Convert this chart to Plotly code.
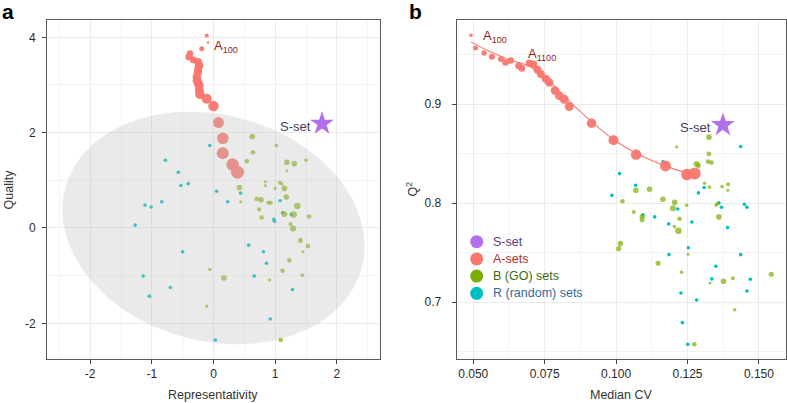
import numpy as np
import plotly.graph_objects as go

# ---------------- Panel a : Representativity vs Quality ----------------
a_A_rep = [-0.11, -0.09, -0.19, -0.38, -0.40, -0.33, -0.25, -0.23, -0.25, -0.25, -0.27, -0.27,
           -0.25, -0.23, -0.23, -0.22, -0.11, 0.00, 0.08, 0.15, 0.15, 0.31, 0.39]
a_A_qual = [4.04, 3.89, 3.76, 3.66, 3.59, 3.53, 3.48, 3.41, 3.34, 3.27, 3.18, 3.10,
            3.04, 2.99, 2.89, 2.80, 2.71, 2.56, 2.21, 1.88, 1.57, 1.33, 1.17]
a_A_size = [4, 2.5, 5, 6.5, 7, 7, 8, 8, 8, 8.5, 8.5, 8.5, 9, 9, 9, 9.5, 10, 10.5, 11, 11.5, 12, 12.5, 13]

a_B_rep = [0.63, 1.02, 0.64, 0.54, 1.19, 1.31, 1.50, 1.19, 0.42, 0.84, 0.84, 1.08, 1.11, 1.00,
           1.15, 1.18, 0.70, 0.77, 0.89, 0.93, 0.44, 0.74, 1.36, 1.15, 1.30, 1.55, 0.78, 1.25,
           1.29, 1.41, 1.53, 1.45, 1.23, 1.12, 1.44, 0.91, -0.06, 0.17, -0.11, 1.09]
a_B_qual = [1.92, 1.73, 1.59, 1.40, 1.38, 1.35, 1.42, 1.20, 0.85, 0.97, 0.89, 0.95, 0.92, 0.83,
            0.83, 0.65, 0.61, 0.59, 0.53, 0.53, 0.55, 0.39, 0.46, 0.29, 0.28, 0.24, 0.22, 0.08,
            -0.01, -0.26, -0.38, -0.50, -0.68, -0.90, -0.99, -1.09, -0.87, -1.05, -1.64, -2.35]
a_B_size = [5, 3, 4, 4, 5, 5, 3, 2.5, 5, 2.5, 2.5, 3.5, 2.5, 2.5,
            5, 5, 4, 5, 3.5, 3.5, 2.5, 3.5, 6, 5, 6, 4, 4, 3.5,
            5.5, 4.5, 4, 2.5, 4, 4, 3, 2.5, 3, 5, 2.5, 4]

a_R_rep = [-0.06, -0.78, -0.57, -0.53, -0.41, 0.05, -0.84, -1.11, -1.01, -1.27, 0.44, 0.23, 1.08, 1.12,
           1.26, 0.98, 0.99, 0.57, -0.50, 0.81, 0.86, 0.66, -1.14, -0.70, -1.04, 1.28, 0.92, 0.03]
a_R_qual = [1.73, 1.42, 1.17, 0.89, 0.93, 0.77, 0.55, 0.48, 0.44, 0.06, 0.73, 0.55, 0.57, 0.32,
            0.28, 0.18, 0.14, -0.36, -0.50, -0.50, -0.74, -1.01, -1.01, -1.25, -1.43, -1.29, -1.91, -2.35]

a_S_rep = [1.76]
a_S_qual = [2.19]

# 95% ellipse parameters (centre, spreads, correlation)
ell_center = (0.0, 0.0)
ell_sx, ell_sy, ell_rho = 2.45, 2.44, -0.156

a_xticks = [-2, -1, 0, 1, 2]
a_yticks = [-2, 0, 2, 4]

# ---------------- Panel b : Median CV vs Q2 ----------------
b_A_cv = [0.0492, 0.0508, 0.0538, 0.0565, 0.0597, 0.0613, 0.0631, 0.0659, 0.0670, 0.0696, 0.0711,
          0.0725, 0.0737, 0.0754, 0.0766, 0.0786, 0.0801, 0.0818, 0.0836, 0.0914, 0.0991, 0.1070,
          0.1173, 0.1248, 0.1275]
b_A_q2 = [0.9697, 0.9568, 0.9518, 0.9480, 0.9457, 0.9420, 0.9440, 0.9387, 0.9364, 0.9414, 0.9404,
          0.9347, 0.9303, 0.9256, 0.9218, 0.9137, 0.9084, 0.9050, 0.8976, 0.8808, 0.8636, 0.8491,
          0.8377, 0.8289, 0.8299]
b_A_size = [3.5, 5, 5.5, 6, 6, 6.5, 6.5, 7, 7, 7.5, 7.5, 8, 8, 8, 8.5, 8.5, 8.5, 9, 9, 9.5,
            10, 10.5, 11, 11.5, 12]

b_fit_cv = [0.0492, 0.0558, 0.0628, 0.0698, 0.0768, 0.0838, 0.0914, 0.0990, 0.1070, 0.1173, 0.1248, 0.1275]
b_fit_q2 = [0.9629, 0.9531, 0.9447, 0.9380, 0.9228, 0.9026, 0.8824, 0.8646, 0.8505, 0.8377, 0.8306, 0.8292]

b_B_cv = [0.1325, 0.1212, 0.1325, 0.1322, 0.1334, 0.1281, 0.1288, 0.1310, 0.1327, 0.1392, 0.1371,
          0.1391, 0.1069, 0.1117, 0.1022, 0.1164, 0.1205, 0.1199, 0.1247, 0.1062, 0.1091, 0.1091,
          0.1222, 0.1204, 0.1354, 0.1350, 0.1360, 0.1218, 0.1015, 0.1009, 0.1252, 0.1147, 0.1229,
          0.1376, 0.1409, 0.1329, 0.1543, 0.1415, 0.1274]
b_B_q2 = [0.8667, 0.8569, 0.8498, 0.8420, 0.8410, 0.8397, 0.8380, 0.8202, 0.8162, 0.8192, 0.8168,
          0.8131, 0.8131, 0.8141, 0.8020, 0.8040, 0.8010, 0.7949, 0.7980, 0.7912, 0.7869, 0.7833,
          0.7843, 0.7764, 0.7993, 0.7980, 0.7862, 0.7721, 0.7592, 0.7541, 0.7485, 0.7394, 0.7303,
          0.7212, 0.7242, 0.7195, 0.7283, 0.6925, 0.6576]
b_B_size = [5, 2.5, 4, 4, 4, 5, 4.5, 3, 3, 3.5, 3,
            2.5, 5, 5, 4, 5, 5, 5.5, 3, 3.5, 4.5, 4.5,
            4, 3, 3, 3, 5, 6, 5, 4.5, 2.5, 4.5, 3,
            5, 3.5, 2.5, 4.5, 3, 4]

b_R_cv = [0.1436, 0.1012, 0.1164, 0.1068, 0.0985, 0.1288, 0.1308, 0.1360, 0.1369, 0.1449, 0.1458,
          0.1094, 0.1216, 0.1135, 0.1184, 0.1265, 0.1390, 0.1253, 0.1185, 0.1436, 0.1349, 0.1335,
          0.1470, 0.1458, 0.1227, 0.1282, 0.1232, 0.1251]
b_R_q2 = [0.8572, 0.8299, 0.8417, 0.8182, 0.8081, 0.8104, 0.8158, 0.8003, 0.7960, 0.7990, 0.7960,
          0.7882, 0.7942, 0.7862, 0.7791, 0.7811, 0.7754, 0.7551, 0.7481, 0.7481, 0.7364, 0.7236,
          0.7233, 0.7114, 0.7094, 0.7023, 0.6794, 0.6576]

b_S_cv = [0.1374]
b_S_q2 = [0.879]

b_xticks = [0.050, 0.075, 0.100, 0.125, 0.150]
b_yticks = [0.7, 0.8, 0.9]

legend_labels = ["S-set", "A-sets", "B (GO) sets", "R (random) sets"]

# ---------------- styles ----------------
C_A, C_B, C_R, C_S = "#F8766D", "#7CAE00", "#00BFC4", "#B36EEA"
LEG_TXT = ["#5A3C78", "#A8322D", "#3A6B12", "#2F6AA0"]
FONT = "Liberation Sans, Arial, sans-serif"
W, H = 787, 403
B_SCALE = 0.6  # extra px added to B markers
R_SIZE = 3.6

fig = go.Figure()

# panel a points
fig.add_trace(go.Scatter(x=a_R_rep, y=a_R_qual, mode="markers", xaxis="x", yaxis="y",
                         marker=dict(color=C_R, size=R_SIZE, line=dict(width=0))))
fig.add_trace(go.Scatter(x=a_B_rep, y=a_B_qual, mode="markers", xaxis="x", yaxis="y",
                         marker=dict(color=C_B, size=[s + B_SCALE for s in a_B_size], line=dict(width=0))))
fig.add_trace(go.Scatter(x=a_A_rep, y=a_A_qual, mode="markers", xaxis="x", yaxis="y",
                         marker=dict(color=C_A, size=a_A_size, opacity=0.95, line=dict(width=0))))
# ellipse over points
t = np.linspace(0, 2 * np.pi, 240)
ex = ell_center[0] + ell_sx * np.cos(t)
ey = ell_center[1] + ell_sy * (ell_rho * np.cos(t) + np.sqrt(1 - ell_rho ** 2) * np.sin(t))
fig.add_trace(go.Scatter(x=ex, y=ey, mode="lines", fill="toself", xaxis="x", yaxis="y",
                         line=dict(width=0, color="rgba(0,0,0,0)"),
                         fillcolor="rgba(190,190,190,0.33)", hoverinfo="skip"))
fig.add_trace(go.Scatter(x=a_S_rep, y=a_S_qual, mode="markers", xaxis="x", yaxis="y",
                         marker=dict(color=C_S, size=18, symbol="star", line=dict(width=0))))

# panel b
fig.add_trace(go.Scatter(x=b_fit_cv, y=b_fit_q2, mode="lines", xaxis="x2", yaxis="y2",
                         line=dict(color=C_A, width=1.1, shape="spline")))
fig.add_trace(go.Scatter(x=b_R_cv, y=b_R_q2, mode="markers", xaxis="x2", yaxis="y2",
                         marker=dict(color=C_R, size=R_SIZE, line=dict(width=0))))
fig.add_trace(go.Scatter(x=b_B_cv, y=b_B_q2, mode="markers", xaxis="x2", yaxis="y2",
                         marker=dict(color=C_B, size=[s + B_SCALE for s in b_B_size], line=dict(width=0))))
fig.add_trace(go.Scatter(x=b_A_cv, y=b_A_q2, mode="markers", xaxis="x2", yaxis="y2",
                         marker=dict(color=C_A, size=b_A_size, opacity=0.95, line=dict(width=0))))
fig.add_trace(go.Scatter(x=b_S_cv, y=b_S_q2, mode="markers", xaxis="x2", yaxis="y2",
                         marker=dict(color=C_S, size=18, symbol="star", line=dict(width=0))))

def px_x(p):
    return p / W

def px_y(p):
    return (H - p) / H

axis_common = dict(showline=True, linecolor="#5a5a5a", linewidth=1, mirror=True,
                   showgrid=True, gridcolor="#ebebeb", gridwidth=1, zeroline=False,
                   ticks="outside", ticklen=4, tickcolor="#444", tickwidth=1, automargin=False,
                   tickfont=dict(family=FONT, size=12, color="#2b2b2b"))

fig.update_layout(
    width=W, height=H, margin=dict(l=0, r=0, t=0, b=0, autoexpand=False),
    paper_bgcolor="white", plot_bgcolor="white", showlegend=False,
    font=dict(family=FONT),
    xaxis=dict(domain=[px_x(47), px_x(380)], range=[-2.70, 2.70], anchor="y",
               tickvals=a_xticks, ticktext=[str(v) for v in a_xticks],
               minor=dict(showgrid=True, dtick=0.5, tick0=0, gridcolor="#f3f3f3", gridwidth=0.6),
               **axis_common),
    yaxis=dict(domain=[px_y(359), px_y(20)], range=[-2.749, 4.363], anchor="x",
               tickvals=a_yticks, ticktext=[str(v) for v in a_yticks], ticklabelstandoff=4,
               minor=dict(showgrid=True, dtick=1, tick0=0, gridcolor="#f3f3f3", gridwidth=0.6),
               **axis_common),
    xaxis2=dict(domain=[px_x(456.7), px_x(785.5)], range=[0.0442, 0.1593], anchor="y2",
                tickvals=b_xticks, ticktext=["%.3f" % v for v in b_xticks],
                minor=dict(showgrid=True, dtick=0.0125, tick0=0.05, gridcolor="#f3f3f3", gridwidth=0.6),
                **axis_common),
    yaxis2=dict(domain=[px_y(359), px_y(20)], range=[0.6427, 0.985], anchor="x2",
                tickvals=b_yticks, ticktext=["%.1f" % v for v in b_yticks], ticklabelstandoff=8,
                minor=dict(showgrid=True, dtick=0.05, tick0=0.7, gridcolor="#f3f3f3", gridwidth=0.6),
                **axis_common),
)

ann = []
# panel labels
ann.append(dict(text="<b>a</b>", x=px_x(0), y=px_y(-2), xref="paper", yref="paper",
                xanchor="left", yanchor="top", showarrow=False, font=dict(family=FONT, size=21, color="black")))
ann.append(dict(text="<b>b</b>", x=px_x(407), y=px_y(-2), xref="paper", yref="paper",
                xanchor="left", yanchor="top", showarrow=False, font=dict(family=FONT, size=21, color="black")))
# axis titles
ann.append(dict(text="Representativity", x=px_x(213.5), y=px_y(395), xref="paper", yref="paper",
                xanchor="center", yanchor="middle", showarrow=False, font=dict(family=FONT, size=12.5, color="#333")))
ann.append(dict(text="Median CV", x=px_x(621), y=px_y(395), xref="paper", yref="paper",
                xanchor="center", yanchor="middle", showarrow=False, font=dict(family=FONT, size=12.5, color="#333")))
ann.append(dict(text="Quality", x=px_x(8), y=px_y(189.5), xref="paper", yref="paper", textangle=-90,
                xanchor="center", yanchor="middle", showarrow=False, font=dict(family=FONT, size=12.5, color="#333")))
ann.append(dict(text="Q<sup>2</sup>", x=px_x(411), y=px_y(189.5), xref="paper", yref="paper", textangle=-90,
                xanchor="center", yanchor="middle", showarrow=False, font=dict(family=FONT, size=12.5, color="#333")))
# in-plot labels
LBL_RED = "#8E1F1A"
LBL_S = "#4A3A5E"
ann.append(dict(text="A<sub>100</sub>", x=-0.03, y=3.80, xref="x", yref="y", xanchor="left", yanchor="middle",
                showarrow=False, font=dict(family=FONT, size=13, color=LBL_RED)))
ann.append(dict(text="S-set", x=1.62, y=2.13, xref="x", yref="y", xanchor="right", yanchor="middle",
                showarrow=False, font=dict(family=FONT, size=13, color=LBL_S)))
ann.append(dict(text="A<sub>100</sub>", x=0.0527, y=0.968, xref="x2", yref="y2", xanchor="left", yanchor="middle",
                showarrow=False, font=dict(family=FONT, size=13, color=LBL_RED)))
ann.append(dict(text="A<sub>1100</sub>", x=0.0684, y=0.950, xref="x2", yref="y2", xanchor="left", yanchor="middle",
                showarrow=False, font=dict(family=FONT, size=13, color=LBL_RED)))
ann.append(dict(text="S-set", x=0.1339, y=0.8764, xref="x2", yref="y2", xanchor="right", yanchor="middle",
                showarrow=False, font=dict(family=FONT, size=13, color=LBL_S)))

# manual legend inside panel b
shapes = []
leg_cols = [C_S, C_A, C_B, C_R]
leg_y = [241.7, 258.9, 276.1, 293.3]
for lab, col, tc, yy in zip(legend_labels, leg_cols, LEG_TXT, leg_y):
    r = 6.5
    shapes.append(dict(type="circle", xref="paper", yref="paper",
                       x0=px_x(476.7 - r), x1=px_x(476.7 + r), y0=px_y(yy + r), y1=px_y(yy - r),
                       fillcolor=col, line=dict(width=0)))
    ann.append(dict(text=lab, x=px_x(491), y=px_y(yy), xref="paper", yref="paper",
                    xanchor="left", yanchor="middle", showarrow=False,
                    font=dict(family=FONT, size=12.5, color=tc)))

fig.update_layout(annotations=ann, shapes=shapes)
fig.write_html("out.html", config={"displayModeBar": False},
               post_script="document.body.style.margin='0px';document.body.style.padding='0px';")
